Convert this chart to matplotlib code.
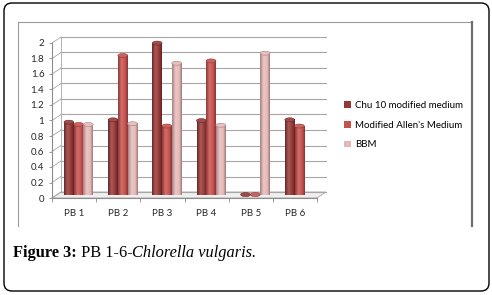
import matplotlib.pyplot as plt
import numpy as np
from matplotlib.colors import LinearSegmentedColormap, to_rgb
from matplotlib.lines import Line2D
from matplotlib.patches import Ellipse, FancyBboxPatch, Polygon, Rectangle
from matplotlib.transforms import Affine2D, ScaledTranslation

categories = ["PB 1", "PB 2", "PB 3", "PB 4", "PB 5", "PB 6"]
series = ["Chu 10 modified medium", "Modified Allen's Medium", "BBM"]
chu10 = [0.94, 0.97, 1.96, 0.96, 0.005, 0.97]
allen = [0.91, 1.80, 0.89, 1.73, 0.005, 0.89]
bbm = [0.91, 0.92, 1.70, 0.90, 1.83, 0.0]
yticks = [0.0, 0.2, 0.4, 0.6, 0.8, 1.0, 1.2, 1.4, 1.6, 1.8, 2.0]
colors = ["#953735", "#C8504D", "#E6B9B8"]

W, H = 492, 295
DEPTH = (9.0, 6.0)  # 3d depth of the back wall, pixels
GRID = "#A6A6A6"
TICKFONT = ["Lato", "DejaVu Sans"]


def mix(c, other, t):
    c = np.array(to_rgb(c))
    return tuple((1 - t) * c + t * np.array(to_rgb(other)))


def cylinder_cmap(c):
    # dark edges, a light band left of centre, like the office 3d cylinders
    stops = [
        (0.0, mix(c, "black", 0.30)),
        (0.35, mix(c, "white", 0.18)),
        (0.75, c),
        (1.0, mix(c, "black", 0.35)),
    ]
    return LinearSegmentedColormap.from_list("cyl", stops)


fig = plt.figure(figsize=(W / 100, H / 100), dpi=100)
# reference pixel space, y pointing down
ptrans = Affine2D().scale(1 / W, -1 / H).translate(0, 1) + fig.transFigure

fig.patches.append(
    FancyBboxPatch(
        (4, 3), 485, 288,
        boxstyle="round,pad=0,rounding_size=8",
        transform=ptrans, fc="white", ec="black", lw=1.0, zorder=-5,
    )
)
for (x0, y0, x1, y1), col, lw in [
    ((18, 22, 18, 226), "#9A9A9A", 0.8),
    ((18, 22, 472, 22), "#9A9A9A", 0.8),
    ((472, 22, 472, 226), "#6E6E6E", 1.6),
]:
    fig.lines.append(
        Line2D([x0, x1], [y0, y1], transform=ptrans, color=col, lw=lw, zorder=-4)
    )

x_left, x_right, y_zero, y_two = 52, 317, 198, 43
ax = fig.add_axes(
    [x_left / W, (H - y_zero) / H, (x_right - x_left) / W, (y_zero - y_two) / H]
)
ax.patch.set_visible(False)
ax.set_xlim(-0.5, len(categories) - 0.5)
ax.set_ylim(0, 2)

ax_w, ax_h = x_right - x_left, y_zero - y_two
dx, dy = DEPTH[0] / ax_w, DEPTH[1] / ax_h

# floor, back wall gridlines and the little diagonals of the left wall
ax.add_patch(
    Polygon(
        [(0, 0), (1, 0), (1 + dx, dy), (dx, dy)],
        transform=ax.transAxes, fc="#EFEFEF", ec=GRID, lw=0.6,
        clip_on=False, zorder=0.5,
    )
)
for v in yticks:
    f = v / 2.0
    ax.plot([dx, 1 + dx], [f + dy, f + dy], transform=ax.transAxes,
            color=GRID, lw=0.8, clip_on=False, zorder=0.6)
    ax.plot([0, dx], [f, f + dy], transform=ax.transAxes,
            color=GRID, lw=0.6, clip_on=False, zorder=0.6)
ax.plot([dx, dx], [dy, 1 + dy], transform=ax.transAxes,
        color=GRID, lw=0.6, clip_on=False, zorder=0.6)

# bars sit half way into the depth
bar_trans = ax.transData + ScaledTranslation(
    DEPTH[0] / 200, DEPTH[1] / 200, fig.dpi_scale_trans
)
width = 0.22
cap = 4.0 / ax_h * 2.0
grad = np.linspace(0, 1, 64)[None, :]

for k, (values, c) in enumerate(zip([chu10, allen, bbm], colors)):
    cmap = cylinder_cmap(c)
    for i, v in enumerate(values):
        if v <= 0:
            continue
        xc = i + (k - 1) * width
        im = ax.imshow(
            grad, cmap=cmap, aspect="auto", interpolation="bilinear",
            extent=(xc - width / 2, xc + width / 2, 0, v), zorder=2,
        )
        im.set_transform(bar_trans)
        im.set_clip_on(False)
        ax.add_patch(
            Ellipse((xc, v), width, cap, transform=bar_trans,
                    fc=mix(c, "white", 0.1), ec=mix(c, "black", 0.3),
                    lw=0.4, zorder=2.1, clip_on=False)
        )

ax.set_xlim(-0.5, len(categories) - 0.5)
ax.set_ylim(0, 2)

for side in ["top", "right"]:
    ax.spines[side].set_visible(False)
for side in ["left", "bottom"]:
    ax.spines[side].set_color("#8C8C8C")
    ax.spines[side].set_linewidth(0.8)

ax.set_yticks(yticks)
ax.set_yticklabels([f"{v:g}" for v in yticks], family=TICKFONT, fontsize=7)
ax.set_xticks(range(len(categories)))
ax.set_xticklabels(categories, family=TICKFONT, fontsize=7)
ax.set_xticks(np.arange(len(categories) + 1) - 0.5, minor=True)
ax.tick_params(axis="y", length=2.5, width=0.6, color="#8C8C8C", pad=3,
               labelcolor="#262626")
ax.tick_params(axis="x", which="major", length=0, pad=8, labelcolor="#262626")
ax.tick_params(axis="x", which="minor", length=3, width=0.6, color="#8C8C8C")

handles = [Rectangle((0, 0), 1, 1, fc=c, ec="none") for c in colors]
fig.legend(
    handles, series, loc="upper left", bbox_to_anchor=(344 / W, 1 - 101 / H),
    frameon=False, prop={"family": TICKFONT, "size": 7},
    handlelength=0.7, handleheight=0.7, handletextpad=0.4, labelspacing=1.1,
    borderaxespad=0, borderpad=0,
)

# caption built from pieces so the species name can be italic
renderer = fig.canvas.get_renderer()
x = 13
for txt, kw in [
    ("Figure 3:", {"weight": "bold"}),
    (" PB 1-6-", {}),
    ("Chlorella vulgaris.", {"style": "italic"}),
]:
    t = fig.text(x, 253, txt, transform=ptrans, va="center", ha="left",
                 family=["Liberation Serif", "DejaVu Serif"], fontsize=11.8,
                 color="black", **kw)
    x += t.get_window_extent(renderer).width

fig.savefig("out.png", dpi=100)
